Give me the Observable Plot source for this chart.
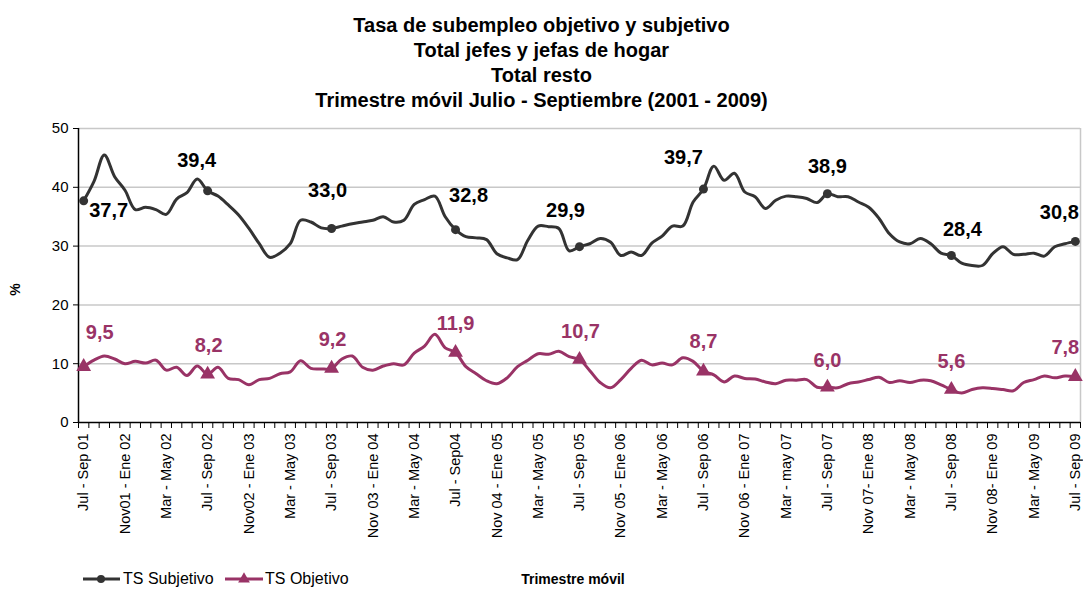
<!DOCTYPE html>
<html><head><meta charset="utf-8">
<script src="https://cdn.jsdelivr.net/npm/d3@7"></script>
<script src="https://cdn.jsdelivr.net/npm/@observablehq/plot@0.6"></script>
<style>
body{margin:0;background:#fff;font-family:"Liberation Sans",Arial,sans-serif;}
#wrap{position:relative;width:1083px;height:589px;overflow:hidden;background:#fff}
#title{position:absolute;left:0;top:13px;width:1083px;text-align:center;font-weight:bold;font-size:20px;line-height:25px;color:#000}
#chart{position:absolute;left:0;top:115px}
#legend{position:absolute;left:0;top:560px;width:1083px;height:29px}
</style></head><body>
<div id="wrap">
<div id="title">Tasa de subempleo objetivo y subjetivo<br>Total jefes y jefas de hogar<br>Total resto<br>Trimestre móvil Julio - Septiembre (2001 - 2009)</div>
<div id="chart"></div>
<div id="legend"></div>
</div>
<script>
const seriesNames = ["TS Subjetivo", "TS Objetivo"];
const xTitle = "Trimestre móvil";
const yTitle = "%";
const tickLabels = ["Jul - Sep 01","Nov01 - Ene 02","Mar - May 02","Jul - Sep 02","Nov02 - Ene 03","Mar - May 03","Jul - Sep 03","Nov 03 - Ene 04","Mar - May 04","Jul - Sep04","Nov 04 - Ene 05","Mar - May 05","Jul - Sep 05","Nov 05 - Ene 06","Mar - May 06","Jul - Sep 06","Nov 06 - Ene 07","Mar - may 07","Jul - Sep 07","Nov 07- Ene 08","Mar - May 08","Jul - Sep 08","Nov 08- Ene 09","Mar - May 09","Jul - Sep 09"];
const yTicks = [0, 10, 20, 30, 40, 50];
const subjetivo = [37.7,41.0,45.5,41.8,39.5,36.2,36.6,36.2,35.4,38.0,39.1,41.4,39.4,38.5,37.0,35.3,33.0,30.4,28.1,28.8,30.4,34.4,34.1,33.1,33.0,33.4,33.8,34.1,34.4,35.0,34.1,34.4,37.1,37.9,38.5,35.0,32.8,31.6,31.4,31.1,28.7,28.0,27.7,31.0,33.4,33.3,33.0,29.2,29.9,30.4,31.3,30.7,28.4,29.0,28.4,30.5,31.7,33.4,33.4,37.5,39.7,43.6,41.2,42.4,39.2,38.4,36.4,37.8,38.5,38.4,38.1,37.4,38.9,38.4,38.4,37.5,36.6,34.7,32.1,30.7,30.4,31.3,30.4,28.8,28.4,27.1,26.7,26.7,28.7,29.9,28.6,28.6,28.8,28.3,29.9,30.4,30.8];
const objetivo = [9.5,10.6,11.3,10.8,10.0,10.4,10.1,10.6,8.9,9.4,8.0,9.6,8.2,9.4,7.5,7.3,6.4,7.3,7.5,8.3,8.6,10.5,9.2,9.1,9.2,10.8,11.3,9.4,8.9,9.6,10.0,9.8,11.8,13.0,15.0,12.7,11.9,9.5,8.3,7.1,6.6,7.6,9.5,10.6,11.7,11.6,12.1,11.2,10.7,8.8,6.8,5.9,7.3,9.2,10.6,9.8,10.1,9.8,11.0,10.4,8.7,8.1,6.9,7.9,7.5,7.4,6.9,6.6,7.2,7.2,7.3,6.0,6.0,5.9,6.6,6.9,7.3,7.7,6.8,7.1,6.8,7.2,7.1,6.4,5.6,5.0,5.6,5.9,5.8,5.6,5.4,6.8,7.3,7.9,7.6,7.9,7.8];

const cSubj = "#333333", cObj = "#993366";
const n = subjetivo.length;
const rows = d3.range(n).map(i => ({i, s: subjetivo[i], o: objetivo[i]}));
const marked = d3.range(0, n, 12);
const fmt = v => d3.format(".1f")(v).replace(".", ",");
// label placement (pixel offsets from each marked point)
const subjOff = {0:[25,10],12:[-11,-30],24:[-4,-38],36:[13,-34],48:[-14,-36],60:[-20,-31],72:[0,-27],84:[11,-26],96:[-16,-29]};
const objOff  = {0:[16,-34],12:[1,-29],24:[1,-29],36:[0,-29],48:[1,-28],60:[0,-30],72:[0,-27],84:[0,-28],96:[-10,-29]};

const labelMarks = [];
for (const i of marked) {
  labelMarks.push(Plot.text([i], {x: d => d, y: d => subjetivo[d], text: d => fmt(subjetivo[d]), dx: subjOff[i][0], dy: subjOff[i][1], fontSize: 20, fontWeight: "bold", fill: "#000"}));
  labelMarks.push(Plot.text([i], {x: d => d, y: d => objetivo[d], text: d => fmt(objetivo[d]), dx: objOff[i][0], dy: objOff[i][1], fontSize: 20, fontWeight: "bold", fill: cObj}));
}

const chart = Plot.plot({
  width: 1083, height: 445,
  marginTop: 13, marginBottom: 138, marginLeft: 78, marginRight: 3,
  style: {fontFamily: '"Liberation Sans", Arial, sans-serif', background: "white", color: "#000", overflow: "visible"},
  x: {domain: [-0.5, n - 0.5], axis: null},
  y: {domain: [0, 50], axis: null},
  marks: [
    Plot.gridY({ticks: yTicks.slice(1), stroke: "#c8c8c8", strokeOpacity: 1, strokeWidth: 1.5}),
    Plot.ruleX([n - 0.5], {stroke: "#c8c8c8", strokeWidth: 1.5}),
    Plot.axisY({ticks: yTicks, tickSize: 5, tickPadding: 5, fontSize: 15, label: null}),
    Plot.axisX({ticks: d3.range(n + 1).map(i => i - 0.5), tickSize: 6, tickFormat: () => "", label: null}),
    Plot.axisX({ticks: d3.range(0, n, 4), tickFormat: i => tickLabels[i / 4], tickRotate: -90, tickSize: 0, tickPadding: 11, fontSize: 14.5, label: null}),
    Plot.ruleY([0], {stroke: "#000", strokeWidth: 1.5}),
    Plot.ruleX([-0.5], {stroke: "#000", strokeWidth: 1.5}),
    Plot.line(rows, {x: "i", y: "s", stroke: cSubj, strokeWidth: 3, curve: "catmull-rom"}),
    Plot.line(rows, {x: "i", y: "o", stroke: cObj, strokeWidth: 3, curve: "catmull-rom"}),
    Plot.dot(marked, {x: d => d, y: d => subjetivo[d], r: 4.5, fill: cSubj, symbol: "circle"}),
    Plot.dot(marked, {x: d => d, y: d => objetivo[d], r: 5.5, fill: cObj, symbol: "triangle"}),
    Plot.text([yTitle], {frameAnchor: "left", textAnchor: "middle", dx: -63, dy: 14, rotate: -90, fontWeight: "bold", fontSize: 14, fill: "#000"}),
    ...labelMarks
  ]
});
document.getElementById("chart").appendChild(chart);

// legend
const lg = d3.select("#legend").append("svg").attr("width", 1083).attr("height", 29)
  .style("font-family", '"Liberation Sans", Arial, sans-serif');
lg.append("line").attr("x1", 83).attr("x2", 120).attr("y1", 19).attr("y2", 19).attr("stroke", cSubj).attr("stroke-width", 3);
lg.append("circle").attr("cx", 101).attr("cy", 19).attr("r", 4).attr("fill", cSubj);
lg.append("text").attr("x", 123).attr("y", 24).attr("font-size", 16).text(seriesNames[0]);
lg.append("line").attr("x1", 225).attr("x2", 263).attr("y1", 19).attr("y2", 19).attr("stroke", cObj).attr("stroke-width", 3);
lg.append("path").attr("transform", "translate(244,19)").attr("d", d3.symbol(d3.symbolTriangle, 60)()).attr("fill", cObj);
lg.append("text").attr("x", 265).attr("y", 24).attr("font-size", 16).text(seriesNames[1]);
lg.append("text").attr("x", 573).attr("y", 24).attr("font-size", 14).attr("font-weight", "bold").attr("text-anchor", "middle").text(xTitle);
</script>
</body></html>
